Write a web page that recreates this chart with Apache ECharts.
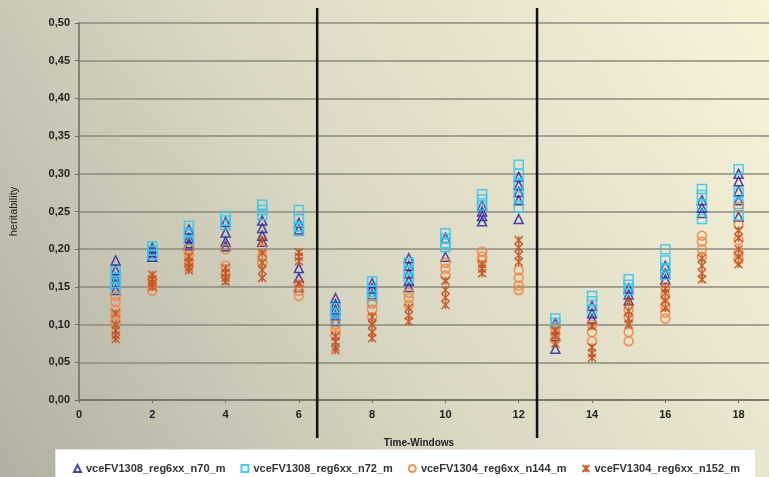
<!DOCTYPE html>
<html>
<head>
<meta charset="utf-8">
<script src="https://cdn.jsdelivr.net/npm/echarts@6/dist/echarts.min.js"></script>
<style>
  html, body { margin: 0; padding: 0; }
  #container_1 { width: 769px; height: 477px; }
</style>
</head>
<body>
<div id="container_1"></div>
<script>
// time windows 1..18, values per window for each run
var windows = [1, 2, 3, 4, 5, 6, 7, 8, 9, 10, 11, 12, 13, 14, 15, 16, 17, 18];
var xTicks = [0, 2, 4, 6, 8, 10, 12, 14, 16, 18];
var separators = [6.5, 12.5];
var seriesNames = ["vceFV1308_reg6xx_n70_m", "vceFV1308_reg6xx_n72_m", "vceFV1304_reg6xx_n144_m", "vceFV1304_reg6xx_n152_m"];

var n70 = [
  [0.185, 0.172, 0.162, 0.155, 0.146], [0.202, 0.196, 0.19], [0.226, 0.215, 0.208, 0.205],
  [0.236, 0.222, 0.21, 0.204], [0.238, 0.228, 0.218, 0.21], [0.235, 0.226, 0.175, 0.162, 0.15],
  [0.135, 0.127, 0.12, 0.112, 0.105], [0.155, 0.148, 0.14], [0.188, 0.178, 0.168, 0.158, 0.15],
  [0.215, 0.19], [0.258, 0.25, 0.244, 0.237], [0.296, 0.285, 0.276, 0.265, 0.24],
  [0.102, 0.085, 0.068], [0.125, 0.115, 0.108], [0.148, 0.14, 0.132],
  [0.178, 0.168, 0.16], [0.265, 0.255, 0.248], [0.3, 0.29, 0.277, 0.265, 0.243]
];
var n72 = [
  [0.17, 0.162, 0.155, 0.148], [0.204, 0.198, 0.193], [0.231, 0.222, 0.212],
  [0.244, 0.238, 0.232], [0.259, 0.252, 0.245], [0.252, 0.24, 0.23, 0.224],
  [0.122, 0.115, 0.106], [0.157, 0.146, 0.138, 0.131], [0.182, 0.172, 0.162],
  [0.221, 0.214, 0.208, 0.203], [0.273, 0.266, 0.258], [0.312, 0.3, 0.286, 0.27, 0.255],
  [0.108, 0.102], [0.138, 0.131, 0.12], [0.16, 0.153, 0.146],
  [0.2, 0.185, 0.175, 0.166], [0.28, 0.272, 0.258, 0.24], [0.306, 0.275, 0.26, 0.245]
];
var n144 = [
  [0.138, 0.13, 0.12, 0.112, 0.104], [0.16, 0.152, 0.145], [0.2, 0.192, 0.184, 0.178],
  [0.2, 0.178, 0.166], [0.2, 0.19, 0.182], [0.152, 0.145, 0.138],
  [0.1, 0.092, 0.086], [0.128, 0.12, 0.11], [0.142, 0.135, 0.126],
  [0.182, 0.174, 0.165], [0.197, 0.19, 0.185], [0.172, 0.162, 0.152, 0.146],
  [0.095, 0.088, 0.08], [0.1, 0.09, 0.078], [0.12, 0.11, 0.09, 0.078],
  [0.15, 0.138, 0.125, 0.116, 0.108], [0.218, 0.21, 0.2, 0.19], [0.256, 0.232, 0.212, 0.195, 0.186]
];
var n152 = [
  [0.115, 0.1, 0.092, 0.086, 0.081], [0.166, 0.16, 0.155, 0.15], [0.19, 0.182, 0.176, 0.172],
  [0.175, 0.168, 0.162, 0.157], [0.212, 0.195, 0.182, 0.172, 0.162], [0.196, 0.19, 0.184, 0.155],
  [0.085, 0.077, 0.07, 0.066], [0.11, 0.1, 0.09, 0.082], [0.122, 0.112, 0.104],
  [0.158, 0.146, 0.136, 0.126], [0.18, 0.174, 0.168], [0.212, 0.202, 0.192, 0.183],
  [0.092, 0.085, 0.075], [0.098, 0.07, 0.062, 0.056], [0.13, 0.118, 0.108, 0.1],
  [0.148, 0.142, 0.132, 0.122], [0.188, 0.178, 0.168, 0.16], [0.225, 0.215, 0.2, 0.19, 0.18]
];

function toPoints(vals) {
  var pts = [];
  vals.forEach(function (list, i) {
    list.forEach(function (v) { pts.push([windows[i], v]); });
  });
  return pts;
}

var chartDom_1 = document.getElementById("container_1");
var myChart = echarts.init(chartDom_1, null, { renderer: "canvas" });

var font = "Liberation Sans, Arial, sans-serif";
var asterisk = "path://M0,0L10,10M10,0L0,10M5,0L5,10";

function scatter(name, vals, symbol, color, size) {
  return {
    name: name,
    type: "scatter",
    data: toPoints(vals),
    symbol: symbol,
    symbolSize: size,
    itemStyle: { color: "rgba(0,0,0,0)", borderColor: color, borderWidth: 1.5, opacity: 0.9 },
    emphasis: { disabled: true }
  };
}

var option = {
  animation: false,
  backgroundColor: new echarts.graphic.LinearGradient(0, 1, 1, 0, [
    { offset: 0, color: "#b2b0a2" },
    { offset: 0.45, color: "#d9d6c2" },
    { offset: 1, color: "#f7f3d9" }
  ]),
  graphic: [{
    type: "rect",
    left: 55, top: 449,
    shape: { width: 700, height: 30 },
    style: { fill: "#ffffff", stroke: "#e4e2da", lineWidth: 1 },
    z: 0
  }],
  legend: {
    data: seriesNames,
    left: 68,
    top: 458,
    width: 690,
    itemWidth: 7,
    itemHeight: 7,
    itemGap: 15,
    textStyle: { fontFamily: font, fontSize: 11, color: "#333", fontWeight: "bold" },
    inactiveColor: "#ccc"
  },
  // the plot is cut at the right edge, just past x = 18
  grid: { left: 74, right: 0, top: 23, bottom: 77, containLabel: false },
  xAxis: {
    type: "value",
    min: 0, max: 18.83,
    name: "Time-Windows",
    nameLocation: "middle",
    nameGap: 38,
    nameTextStyle: { fontFamily: font, fontSize: 10, fontWeight: "bold", color: "#222", padding: [0, 10, 0, 0] },
    axisLine: { lineStyle: { color: "#6e6c62", width: 1.5 } },
    axisTick: { show: true, length: 3, customValues: xTicks, lineStyle: { color: "#6e6c62" } },
    axisLabel: { fontFamily: font, fontSize: 11, fontWeight: "bold", color: "#222", margin: 9, customValues: xTicks },
    splitLine: { show: false }
  },
  yAxis: {
    type: "value",
    min: 0, max: 0.5, interval: 0.05,
    name: "heritability",
    nameLocation: "middle",
    nameGap: 60,
    nameTextStyle: { fontFamily: font, fontSize: 11, color: "#222" },
    axisLine: { show: true, lineStyle: { color: "#6e6c62", width: 1.5 } },
    axisTick: { show: true, length: 4, lineStyle: { color: "#6e6c62" } },
    axisLabel: {
      fontFamily: font, fontSize: 11, fontWeight: "bold", color: "#222", margin: 9,
      formatter: function (v) { return v.toFixed(2).replace(".", ","); }
    },
    splitLine: { show: true, lineStyle: { color: "#8d8a7d", width: 1.5 } }
  },
  series: [
    scatter(seriesNames[0], n70, "triangle", "#33309c", 9),
    scatter(seriesNames[1], n72, "rect", "#36c6ef", 9),
    scatter(seriesNames[2], n144, "circle", "#ef8540", 9),
    scatter(seriesNames[3], n152, asterisk, "#c2521d", 8),
    {
      // vertical separators between blocks of time windows
      type: "custom",
      name: "sep",
      data: separators.map(function (s) { return [s]; }),
      encode: { x: 0 },
      clip: false,
      z: 5,
      silent: true,
      renderItem: function (params, api) {
        var top = api.coord([api.value(0), 0.5]);
        var bot = api.coord([api.value(0), 0]);
        return {
          type: "line",
          shape: { x1: top[0], y1: top[1] - 15, x2: bot[0], y2: bot[1] + 38 },
          style: { stroke: "#111", lineWidth: 2.5 }
        };
      }
    }
  ]
};

myChart.setOption(option);
</script>
</body>
</html>
